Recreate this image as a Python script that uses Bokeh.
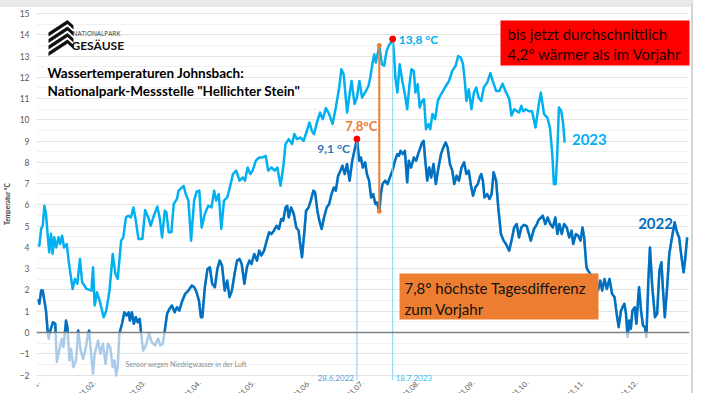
import numpy as np
from bokeh.plotting import figure
from bokeh.models import (Range1d, FixedTicker, Span, Label, LinearAxis,
                          BoxAnnotation, PolyAnnotation)
from bokeh.embed import file_html
from bokeh.resources import INLINE

# ---------------- data (day of year, water temperature °C) ----------------
days_2022 = [1, 1.5, 2.5, 3.4, 4.3, 5.2, 6.1, 6.7, 7.6, 9.1, 10.4, 11.3, 12.2, 14.1, 15, 16.4, 17.2, 18.3,
             19.2, 20.5, 22, 23.2, 24.6, 26, 27.5, 28.7, 29.3, 30.6, 31.5, 32.4, 34.3, 35.6, 37, 38.5,
             39.8, 41.1, 42.5, 43.5, 44.4, 45.3, 46.2, 47.7, 49, 50.3, 51.4, 52.1, 53.2, 54.3, 55.4,
             56.5, 57.6, 58.4, 59.5, 61, 62.8, 64.3, 66.1, 67.9, 69.2, 70.5, 71.6, 72.9, 74.2, 75.6,
             77.1, 78.4, 79.7, 81.1, 83, 84.8, 86.7, 88.1, 89.4, 90.7, 91.8, 92.6, 94, 95.5, 96.8, 98.1,
             99.6, 101, 102.3, 103.6, 105.1, 106.5, 107.8, 109.1, 110.6, 112, 113.4, 114.6, 116.1,
             117.5, 118.9, 120.1, 121.6, 123.1, 124.4, 125.6, 127.1, 128.6, 129.9, 131.2, 132.6, 134.1,
             135.4, 136.7, 137.8, 139.1, 140, 140.9, 142.2, 143.7, 145.1, 146.4, 147.3, 148.3, 149.5,
             150.6, 152, 153.2, 154.7, 155.6, 156.9, 158, 159.3, 160.6, 162.1, 163.5, 164.8, 166.1,
             167.2, 168.5, 169.8, 170.9, 172.2, 173.5, 174.9, 176.4, 179, 180.3, 181.2, 182.3, 183.6,
             184.6, 185.8, 186.9, 188.1, 189.3, 190.2, 191.5, 192.4, 193.3, 194.8, 196.1, 197.4, 198.9,
             200.3, 201.6, 202.5, 203.4, 204.7, 205.8, 207.1, 208, 209.3, 210.8, 212.1, 213.2, 214.5,
             215.4, 216.3, 217.2, 218.3, 219.4, 220.5, 221.8, 223.1, 224.6, 226, 227.3, 228.6, 229.7,
             231, 232.3, 233.4, 234.7, 236, 237.5, 238.9, 240.2, 241.5, 242.6, 243.9, 245.2, 246.6,
             247.6, 248.5, 249.4, 250.3, 251.8, 253.1, 254.3, 255.4, 256.8, 258, 259.5, 261, 262.3,
             264.1, 265.4, 266.9, 268.3, 269.6, 270.9, 272.4, 273.9, 276.2, 277.9, 279.6, 280.6, 282.9,
             284.3, 285.6, 287.1, 288.5, 289.9, 291.1, 292.2, 293.5, 294.8, 296.3, 297.7, 299, 299.9,
             301.4, 302.7, 304, 305.1, 306, 307.3, 308.2, 309.5, 310.4, 311.4, 312.5, 313.7, 315, 316.1,
             317.4, 318.7, 320.2, 321.6, 323, 324.2, 325.3, 326.6, 327.5, 328.5, 329.4, 330.3, 331.2,
             332.1, 333, 334.3, 335.2, 336.7, 337.8, 338.9, 340, 340.8, 341.9, 342.8, 344.1, 345.6,
             346.8, 348.1, 349.2, 350, 351.1, 352.4, 353.6, 355.1, 356.6, 357.9, 359.1, 360.2, 361.6,
             362.4, 363.6]
temp_2022 = [1.58, 1.35, 1.97, 1.97, 1.5, 1.03, 0.09, -0.3, 0.09, 0.48, 0.41, -1.39, -1.0, -0.3, -0.69, 0.56,
             0.25, -1.31, -0.77, -1.63, -1.31, 0.09, -0.85, -1.24, -0.69, -0.06, 0.09, -1.16, -1.94, -1.0,
             -0.38, -1.0, -0.53, -1.47, -0.53, -0.69, -1.63, -1.31, -2.02, -1.63, -0.06, 0.41, 0.95, 0.8,
             0.95, 0.56, 0.95, 0.41, 0.72, 0.48, 0.64, -0.06, -0.85, -0.61, -0.06, -0.45, -0.61, -0.3,
             -0.61, -0.53, 0.09, 0.88, 1.11, 1.27, 0.95, 1.19, 1.03, 1.42, 1.82, 1.97, 2.21, 2.13, 1.89,
             1.5, 0.72, 0.72, 2.13, 2.99, 3.07, 2.29, 2.13, 2.99, 3.38, 3.15, 1.97, 2.44, 1.66, 1.97,
             2.75, 3.38, 3.46, 3.22, 2.29, 3.07, 3.38, 3.22, 3.69, 3.38, 3.85, 3.62, 3.85, 4.32, 4.71,
             4.63, 4.79, 5.02, 4.87, 5.34, 5.26, 5.88, 5.96, 5.41, 5.88, 5.57, 4.94, 4.79, 4.16, 3.54,
             4.63, 5.73, 5.88, 6.2, 6.67, 6.59, 5.73, 5.26, 4.87, 5.41, 5.88, 6.04, 6.51, 6.82, 6.67,
             7.37, 7.61, 7.84, 7.45, 7.92, 7.14, 8.08, 9.1, 8.08, 8.23, 7.76, 8.0, 7.45, 7.14, 6.35,
             6.51, 6.04, 6.12, 5.7, 6.51, 6.98, 7.14, 6.98, 7.29, 7.61, 8.08, 8.39, 8.31, 8.54, 8.39,
             8.54, 7.06, 8.08, 7.76, 8.23, 8.08, 8.39, 8.7, 8.93, 9.01, 8.08, 7.14, 7.76, 7.29, 7.92,
             6.98, 7.76, 8.39, 8.7, 8.93, 8.7, 7.92, 7.61, 6.98, 7.37, 7.14, 7.76, 8.0, 7.45, 7.61,
             6.98, 6.43, 6.82, 6.98, 7.29, 7.45, 7.14, 6.35, 6.51, 6.28, 6.51, 7.53, 7.14, 5.88, 4.63,
             4.32, 4.16, 3.85, 4.32, 4.94, 5.1, 4.47, 4.94, 5.06, 5.0, 4.32, 4.85, 5.1, 5.3, 5.49, 5.1,
             5.41, 5.1, 4.94, 5.41, 4.63, 5.1, 4.63, 5.1, 4.94, 4.47, 4.79, 4.16, 4.63, 4.55, 4.32,
             4.94, 4.47, 3.07, 2.91, 2.75, 2.44, 1.89, 2.29, 1.97, 2.44, 1.97, 2.52, 2.05, 2.52, 1.82,
             1.66, 0.88, 0.25, 1.03, 1.19, 1.35, 0.88, -0.22, 0.56, 0.17, 1.03, 1.19, 0.41, 2.13, 1.03,
             0.33, 0.25, -0.22, 2.44, 4.0, 2.13, 0.72, 0.88, 2.91, 3.3, 2.13, 0.72, 2.13, 3.69, 4.47,
             5.18, 4.71, 4.47, 3.69, 2.83, 3.38, 4.47]

days_2023 = [1, 1.5, 2.5, 3.4, 4.3, 5.2, 6.1, 7, 8, 8.9, 9.8, 10.9, 12.2, 13.1, 14.2, 15.3, 16.8, 18.1,
             20.1, 21.4, 22.7, 24.2, 25.4, 27.9, 30.6, 31.5, 32.4, 33.7, 35.2, 37.4, 38.9, 40.7, 42.5,
             44, 45.3, 47.2, 48.4, 49.9, 51.2, 52.7, 54.1, 55.4, 56.9, 59.1, 60.6, 62.4, 63.7, 65.5,
             67.4, 68.7, 70.1, 71.6, 72.5, 73.8, 75.3, 76.6, 78.4, 79.3, 80.8, 82.1, 83.3, 84.8, 86.3,
             88, 89.4, 90.9, 92.2, 94, 95.9, 97.7, 99.2, 100.4, 101.8, 103.2, 104.7, 106.5, 107.8,
             109.7, 111.5, 113.4, 115.2, 116.4, 117.9, 119.4, 120.7, 122.5, 124.4, 126.2, 128, 129.4,
             131.2, 133, 134.5, 136.3, 137.8, 139.1, 140.9, 142.8, 144, 145.5, 147.3, 149.2, 151,
             152.5, 153.8, 155, 156.9, 158.4, 159.9, 161.7, 163.5, 165.4, 167.2, 169.1, 170.3, 171.6,
             173.5, 174.9, 176, 177.7, 179, 180.4, 181.9, 183.7, 185.5, 186.5, 187.8, 188.7, 189.6,
             191.5, 193, 194.2, 195.6, 196.7, 199, 199.8, 200.5, 201.6, 202.9, 204.4, 205.8, 207.1,
             208.4, 209.5, 210.8, 211.7, 213, 214.1, 215.4, 216.5, 217.6, 219, 220, 221.2, 222.7,
             224.2, 226, 228.2, 230.5, 232.3, 234.2, 235.6, 237.1, 238.3, 239.3, 240.2, 241.5, 243,
             244.4, 245.7, 247, 248.5, 249.9, 251.8, 253.6, 254.9, 256.8, 258.6, 260.4, 262.3, 264.1,
             265.4, 266.9, 268.3, 269.6, 270.9, 272, 273.3, 275.1, 276.9, 278.8, 280.6, 281.8, 283.6,
             285.4, 286.9, 288.2, 289.1, 290.1, 290.9, 291.9, 293.2, 294.3, 295.1]
temp_2023 = [4.16, 4.08, 4.88, 5.02, 5.96, 5.58, 4.64, 3.77, 4.64, 3.7, 4.48, 4.0, 4.48, 4.16, 4.55, 4.0,
             4.16, 3.22, 2.05, 2.52, 2.29, 3.46, 2.36, 2.05, 1.97, 3.07, 1.27, 1.89, 1.5, 0.72, 1.03,
             1.97, 3.69, 2.75, 2.52, 4.32, 4.47, 5.41, 5.49, 5.41, 5.88, 5.26, 4.4, 4.4, 5.76, 5.41,
             5.02, 5.49, 5.92, 5.41, 4.47, 5.73, 5.65, 4.71, 4.71, 6.04, 6.28, 6.67, 6.79, 6.9, 6.51,
             6.2, 4.32, 6.2, 6.63, 6.67, 4.94, 5.57, 5.96, 5.88, 6.67, 6.2, 6.51, 4.87, 6.2, 6.35, 6.75,
             7.45, 7.61, 7.14, 7.29, 7.14, 7.76, 7.45, 7.61, 8.08, 8.23, 8.23, 8.31, 7.61, 7.76, 7.61,
             7.76, 6.9, 7.76, 8.86, 9.09, 8.86, 9.33, 9.09, 9.17, 9.01, 9.48, 9.87, 9.48, 9.33, 9.95,
             10.34, 10.03, 10.55, 10.27, 9.8, 10.58, 11.52, 12.38, 12.14, 10.34, 11.2, 11.83, 10.74,
             11.05, 11.83, 11.05, 11.3, 11.6, 12.0, 12.7, 13.08, 12.69, 13.5, 12.61, 12.54, 13.24,
             13.47, 13.8, 13.0, 11.99, 11.28, 12.61, 11.83, 11.2, 10.5, 11.67, 12.38, 12.3, 11.28,
             11.67, 10.58, 10.89, 10.97, 9.56, 9.8, 9.56, 10.27, 10.03, 10.89, 11.2, 11.52, 11.83,
             12.3, 12.54, 13.0, 12.92, 12.61, 11.83, 10.89, 11.44, 10.5, 11.28, 11.52, 11.05, 10.89,
             11.52, 11.75, 12.2, 11.83, 11.36, 11.36, 11.7, 11.3, 11.0, 10.2, 10.5, 10.42, 10.34,
             10.66, 10.4, 10.5, 10.4, 10.4, 9.64, 10.7, 11.28, 10.27, 10.11, 9.64, 8.39, 6.98, 6.98,
             8.23, 10.58, 10.42, 9.8, 8.93]

month_days = [1, 32, 60, 91, 121, 152, 182, 213, 244, 274, 305, 335]
month_labels = ["01.01.", "01.02.", "01.03.", "01.04.", "01.05.", "01.06.",
                "01.07.", "01.08.", "01.09.", "01.10.", "01.11.", "01.12."]
y_ticks = list(range(-2, 16))
y_minor = [t + 0.5 for t in range(-2, 15)]

peak_2022_day, peak_2022 = 179, 9.1
peak_2023_day, peak_2023 = 199, 13.8
diff_day, diff_hi, diff_lo = 191.5, 13.5, 5.7

C22 = "#0070C0"
C22_LIGHT = "#A9CBE9"
C23 = "#00B0F0"
ORANGE = "#ED7D31"
FONT = "Lato"

# -------- frame geometry helpers (screen offsets relative to the plot frame) --------
FL, FB = 36, 400   # frame left / bottom in page pixels


def sx(px):
    return px - FL


def sy(py):
    return FB - py


p = figure(width=695, height=393, x_range=Range1d(-0.1, 364.9), y_range=Range1d(-3.197, 15.282),
           output_backend="svg", toolbar_location=None, x_axis_location=None,
           min_border_left=28, min_border_right=6, min_border_top=0, min_border_bottom=0,
           styles={"margin-left": "-2px", "border-left": "2px solid #000000",
                   "border-top": "7px solid #e8e8e8", "border-right": "2px solid #d4d4d4"})
p.outline_line_color = None
p.background_fill_color = "white"
p.border_fill_color = "white"

# y axis
p.yaxis.ticker = FixedTicker(ticks=y_ticks, minor_ticks=y_minor)
p.yaxis.axis_line_color = None
p.yaxis.major_tick_line_color = None
p.yaxis.minor_tick_line_color = None
p.yaxis.major_tick_out = 0
p.yaxis.major_tick_in = 0
p.yaxis.minor_tick_out = 0
p.yaxis.minor_tick_in = 0
p.yaxis.major_label_text_font = FONT
p.yaxis.major_label_text_font_size = "8.5px"
p.yaxis.major_label_text_color = "#595959"
p.yaxis.major_label_standoff = 7
p.yaxis.axis_label = "Temperatur °C"
p.yaxis.axis_label_text_font = FONT
p.yaxis.axis_label_text_font_size = "6.5px"
p.yaxis.axis_label_text_font_style = "bold"
p.yaxis.axis_label_text_color = "#404040"
p.yaxis.axis_label_standoff = 6
p.ygrid.grid_line_color = "#e3e3e3"
p.ygrid.minor_grid_line_color = "#f1f1f1"
p.xgrid.visible = False

# x axis: month labels, fixed just below the lowest grid line (takes no panel space)
xaxis = LinearAxis(fixed_location=-2.30, ticker=FixedTicker(ticks=month_days),
                   major_label_overrides=dict(zip(month_days, month_labels)),
                   major_label_orientation=np.pi / 4, major_label_standoff=0,
                   axis_line_color=None, major_tick_line_color=None, minor_tick_line_color=None,
                   major_tick_out=0, major_tick_in=0,
                   major_label_text_font=FONT, major_label_text_font_size="7.5px",
                   major_label_text_color="#595959")
p.add_layout(xaxis, "below")

# zero line
p.add_layout(Span(location=0, dimension="width", line_color="#7f7f7f", line_width=1.5))


def screen_label(px, py, text, size, color, bold=False, align="left", font=FONT):
    p.add_layout(Label(x=sx(px), y=sy(py), x_units="screen", y_units="screen", text=text,
                       text_align=align, text_baseline="middle", text_font=font,
                       text_font_size=size, text_font_style="bold" if bold else "normal",
                       text_color=color))


def data_label(x, y, text, size, color, bold=False, align="left", x_offset=0, font=FONT):
    p.add_layout(Label(x=x, y=y, x_offset=x_offset, text=text, text_align=align,
                       text_baseline="middle", text_font=font, text_font_size=size,
                       text_font_style="bold" if bold else "normal", text_color=color))


screen_label(328, 395, "Datum", "7px", "#404040", bold=True, align="center")


# 2022: light line for everything, dark for the values >= 0
def positive_part(days, temps):
    xs, ys = [], []
    for i in range(len(days)):
        if i > 0 and (temps[i - 1] < 0) != (temps[i] < 0):
            d0, t0, d1, t1 = days[i - 1], temps[i - 1], days[i], temps[i]
            xs.append(d0 + (0 - t0) * (d1 - d0) / (t1 - t0))
            ys.append(0.0)
        xs.append(days[i])
        ys.append(temps[i] if temps[i] >= 0 else np.nan)
    return xs, ys


p.line(days_2022, temp_2022, line_color=C22_LIGHT, line_width=2.5, line_join="round")
px22, py22 = positive_part(days_2022, temp_2022)
p.line(px22, py22, line_color=C22, line_width=2.5, line_join="round")
p.line(days_2023, temp_2023, line_color=C23, line_width=2.5, line_join="round")

# date marker lines
p.segment(x0=[peak_2022_day], y0=[peak_2022], x1=[peak_2022_day], y1=[-2.25], line_color="#9DC3E6", line_width=1)
p.segment(x0=[peak_2023_day], y0=[peak_2023], x1=[peak_2023_day], y1=[-2.25], line_color="#7FD6F7", line_width=1)

# difference bar
p.segment(x0=[diff_day], y0=[diff_hi], x1=[diff_day], y1=[diff_lo], line_color=ORANGE, line_width=2)
p.scatter([diff_day, diff_day], [diff_hi, diff_lo], size=4, color=ORANGE)

# peaks
p.scatter([peak_2022_day, peak_2023_day], [peak_2022, peak_2023], size=6, color="#FF0000")

# texts bound to data
data_label(peak_2022_day, 8.65, "9,1 °C", "12px", "#2E75B6", bold=True, align="right", x_offset=-7)
data_label(peak_2023_day, 13.78, "13,8 °C", "12px", C23, bold=True, x_offset=6)
data_label(diff_day, 9.73, "7,8°C", "13px", ORANGE, bold=True, align="right", x_offset=-2)
data_label(299.2, 9.07, "2023", "15px", C23, bold=True)
data_label(336.2, 5.12, "2022", "15px", C22, bold=True)
data_label(peak_2022_day, -2.12, "28.6.2022", "8px", "#5B9BD5", align="right", x_offset=-3)
data_label(peak_2023_day, -2.12, "18.7.2023", "8px", "#3DBDF2", x_offset=3)
data_label(49.6, -1.46, "Sensor wegen Niedrigwasser in der Luft", "7px", "#8C8C8C")

# title
screen_label(47, 72, "Wassertemperaturen Johnsbach:", "13.5px", "#000000", bold=True)
screen_label(47, 90, 'Nationalpark-Messstelle "Hellichter Stein"', "13.5px", "#000000", bold=True)

# logo
for y0 in [32, 38.5, 45, 51.5]:
    xs = [48, 67, 73, 73, 67, 48]
    ys = [y0, y0 - 12.5, y0 - 7, y0 - 3, y0 - 8.5, y0 + 4]
    p.add_layout(PolyAnnotation(xs=[sx(v) for v in xs], ys=[sy(v) for v in ys], xs_units="screen",
                                ys_units="screen", fill_color="#111111", fill_alpha=1, line_color=None))
screen_label(72, 33, "NATIONALPARK", "6.5px", "#333333", font="Open Sans")
screen_label(71, 45, "GESÄUSE", "12px", "#111111", bold=True)

# red box
p.add_layout(BoxAnnotation(left=sx(500), right=sx(695), top=sy(20), bottom=sy(65), left_units="screen",
                           right_units="screen", top_units="screen", bottom_units="screen",
                           fill_color="#FF0000", fill_alpha=1, line_color=None))
screen_label(507, 33, "bis jetzt durchschnittlich", "15px", "#1A0000")
screen_label(507, 53, "4,2° wärmer als im Vorjahr", "15px", "#1A0000")

# orange box
p.add_layout(BoxAnnotation(left=sx(399), right=sx(598), top=sy(273), bottom=sy(319), left_units="screen",
                           right_units="screen", top_units="screen", bottom_units="screen",
                           fill_color=ORANGE, fill_alpha=1, line_color=None))
screen_label(404, 287, "7,8° höchste Tagesdifferenz", "15px", "#111111")
screen_label(404, 308, "zum Vorjahr", "15px", "#111111")

open("out.html", "w").write(file_html(p, INLINE))
